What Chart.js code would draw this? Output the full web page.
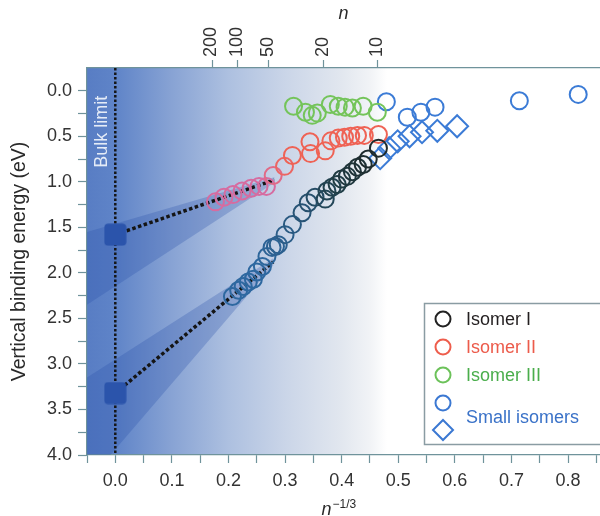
<!DOCTYPE html>
<html><head><meta charset="utf-8">
<script src="https://cdn.jsdelivr.net/npm/chart.js@4.4.0/dist/chart.umd.min.js"></script>
<style>html,body{margin:0;padding:0;background:#fff}#wrap{width:600px;height:516px}</style>
</head><body><div id="wrap"><canvas id="c" width="600" height="516"></canvas></div>
<script>
// ---------- data ----------
const topTickLabels = [200, 100, 50, 20, 10];           // n values on top axis
const legendLabels = ['Isomer I', 'Isomer II', 'Isomer III', 'Small isomers'];
const isomerI = [[0.207,2.26],[0.218,2.19],[0.226,2.15],[0.235,2.10],[0.244,2.07],[0.25,1.99],[0.26,1.93],[0.268,1.82],[0.277,1.72],[0.283,1.71],[0.288,1.69],[0.30,1.58],[0.313,1.47],[0.33,1.34],[0.341,1.23],[0.353,1.17],[0.371,1.19],[0.374,1.10],[0.383,1.06],[0.392,1.03],[0.40,0.97],[0.41,0.94],[0.419,0.89],[0.428,0.84],[0.438,0.81],[0.447,0.75],[0.465,0.63]];
const isomerII = [[0.177,1.22],[0.192,1.17],[0.208,1.14],[0.224,1.10],[0.24,1.07],[0.254,1.05],[0.267,1.05],[0.279,0.93],[0.299,0.83],[0.313,0.71],[0.344,0.56],[0.345,0.69],[0.371,0.66],[0.381,0.55],[0.394,0.52],[0.405,0.51],[0.416,0.50],[0.428,0.49],[0.44,0.49],[0.465,0.48]];
const isomerIII = [[0.315,0.17],[0.336,0.235],[0.348,0.27],[0.357,0.245],[0.38,0.15],[0.394,0.17],[0.406,0.18],[0.419,0.19],[0.438,0.17],[0.463,0.235]];
const smallCircles = [[0.479,0.12],[0.516,0.29],[0.54,0.235],[0.565,0.18],[0.714,0.11],[0.818,0.04]];
const smallDiamonds = [[0.468,0.74],[0.484,0.63],[0.499,0.555],[0.52,0.50],[0.542,0.455],[0.569,0.44],[0.604,0.39]];
const bulkLimit = [[0,1.58],[0,3.32]];
const fitUpper = [[0,1.58],[0.281,0.98]];
const fitLower = [[0,3.32],[0.279,1.88]];
const coneUpper = [[0.281,0.95],[-0.05,1.55],[-0.05,2.35],[0.281,1.01]];
const coneLower = [[0.279,1.84],[-0.05,3.15],[-0.05,4.3],[0.279,1.92]];
const bulkLine = [[0,-0.25],[0,4.0]];
const X_MIN = -0.05, X_MAX = 0.8565, Y_MIN = -0.25, Y_MAX = 4.0;

// ---------- helpers ----------
const FONT = "'Liberation Sans', Arial, Helvetica, sans-serif";
const pts = a => a.map(p => ({x: p[0], y: p[1]}));
const xTicks = []; for (let i = -1; i <= 17; i++) xTicks.push(+(i * 0.05).toFixed(2));
const yTicks = []; for (let i = 0; i <= 16; i++) yTicks.push(+(i * 0.25).toFixed(2));
const isMult = (v, s) => Math.abs(v / s - Math.round(v / s)) < 1e-6;
function lerpCol(stops, x) {
  if (x <= stops[0][0]) return stops[0][1];
  for (let i = 1; i < stops.length; i++) {
    if (x <= stops[i][0]) {
      const [x0, c0] = stops[i-1], [x1, c1] = stops[i];
      const t = (x - x0) / (x1 - x0);
      return c0.map((c, k) => Math.round(c + (c1[k] - c) * t));
    }
  }
  return stops[stops.length-1][1];
}
const rgb = c => `rgb(${c[0]},${c[1]},${c[2]})`;
const colI = x => rgb(lerpCol([[0.26,[46,104,160]],[0.33,[40,84,118]],[0.40,[32,60,66]],[0.45,[30,42,44]]], x));
const colII = x => rgb(lerpCol([[0.268,[214,108,160]],[0.29,[234,104,110]],[0.31,[239,98,84]]], x));
const AXIS = '#6f939b';

function makeSquare(size, r, color) {
  const c = document.createElement('canvas'); c.width = size; c.height = size;
  const g = c.getContext('2d'); g.fillStyle = color;
  const w = size - 1, o = 0.5;
  g.beginPath();
  g.moveTo(o + r, o); g.lineTo(o + w - r, o); g.quadraticCurveTo(o + w, o, o + w, o + r);
  g.lineTo(o + w, o + w - r); g.quadraticCurveTo(o + w, o + w, o + w - r, o + w);
  g.lineTo(o + r, o + w); g.quadraticCurveTo(o, o + w, o, o + w - r);
  g.lineTo(o, o + r); g.quadraticCurveTo(o, o, o + r, o); g.closePath(); g.fill();
  return c;
}
const squareImg = makeSquare(23, 4, '#2b54ab');

const circleDs = (label, data, color, order) => ({
  type: 'scatter', label, data: pts(data), order,
  pointStyle: 'circle', pointRadius: 8.5, pointBorderWidth: 2,
  pointBackgroundColor: 'rgba(0,0,0,0)', pointBorderColor: color, pointHoverRadius: 8.5
});

// ---------- plugins ----------
const bgPlugin = {
  id: 'bg',
  beforeDraw(chart) {
    const {ctx, chartArea: a, scales: {x}} = chart;
    ctx.save();
    ctx.fillStyle = '#fff'; ctx.fillRect(0, 0, chart.width, chart.height);
    const g = ctx.createLinearGradient(x.getPixelForValue(-0.05), 0, x.getPixelForValue(0.48), 0);
    const stops = [[-0.05,'#587dc4'],[0.0,'#5f84c8'],[0.1,'#88a3d4'],[0.2,'#adc0e0'],[0.3,'#cad5e8'],[0.4,'#e2e7ef'],[0.45,'#f1f3f6'],[0.48,'#ffffff']];
    const span = 0.53;
    stops.forEach(s => g.addColorStop((s[0] + 0.05) / span, s[1]));
    ctx.fillStyle = g;
    ctx.fillRect(a.left, a.top, a.right - a.left, a.bottom - a.top);
    ctx.restore();
  }
};

const overlayPlugin = {
  id: 'overlay',
  afterDraw(chart) {
    const {ctx, chartArea: a, scales: {x, y}} = chart;
    ctx.save();
    // Bulk limit label
    ctx.translate(x.getPixelForValue(-0.023), y.getPixelForValue(0.45));
    ctx.rotate(-Math.PI / 2);
    ctx.font = `18px ${FONT}`; ctx.fillStyle = 'rgba(236,241,250,0.95)';
    ctx.textAlign = 'center'; ctx.textBaseline = 'middle';
    ctx.fillText('Bulk limit', 0, 0);
    ctx.restore();

    // bottom axis title n^-1/3
    ctx.save();
    ctx.fillStyle = '#2a2a2a';
    ctx.font = `italic 18px ${FONT}`;
    const wN = ctx.measureText('n').width;
    ctx.font = `12px ${FONT}`;
    const wS = ctx.measureText('\u22121/3').width;
    const cx = x.getPixelForValue(0.395);
    const x0 = cx - (wN + 1 + wS) / 2;
    ctx.textBaseline = 'alphabetic'; ctx.textAlign = 'left';
    ctx.font = `italic 18px ${FONT}`; ctx.fillText('n', x0, 515);
    ctx.font = `12px ${FONT}`; ctx.fillText('\u22121/3', x0 + wN + 1, 508);
    ctx.restore();

    // legend
    ctx.save();
    const L = 424.5, T = 303.5, B = 444.5;
    ctx.fillStyle = '#fff'; ctx.fillRect(L, T, 600 - L, B - T);
    ctx.strokeStyle = '#8a9ca3'; ctx.lineWidth = 1.5;
    ctx.strokeRect(L, T, 620 - L, B - T);
    const cxL = 443, tx = 466;
    const items = [
      {y: 319, col: '#222', tcol: '#231f20', text: legendLabels[0]},
      {y: 347, col: '#ee5d4c', tcol: '#ec5b4b', text: legendLabels[1]},
      {y: 375, col: '#6cc25a', tcol: '#4aae4c', text: legendLabels[2]},
    ];
    ctx.font = `18px ${FONT}`; ctx.textBaseline = 'middle'; ctx.textAlign = 'left';
    items.forEach(it => {
      ctx.beginPath(); ctx.arc(cxL, it.y, 7.5, 0, Math.PI * 2);
      ctx.strokeStyle = it.col; ctx.lineWidth = 2; ctx.stroke();
      ctx.fillStyle = it.tcol; ctx.fillText(it.text, tx, it.y + 1);
    });
    ctx.beginPath(); ctx.arc(cxL, 403, 7.5, 0, Math.PI * 2);
    ctx.strokeStyle = '#3b78d2'; ctx.lineWidth = 2; ctx.stroke();
    ctx.beginPath(); ctx.moveTo(cxL, 420); ctx.lineTo(cxL + 10, 430); ctx.lineTo(cxL, 440); ctx.lineTo(cxL - 10, 430); ctx.closePath();
    ctx.stroke();
    ctx.fillStyle = '#3a72c8'; ctx.fillText(legendLabels[3], tx, 418);
    ctx.restore();
  }
};

// ---------- chart ----------
const tickFont = {family: FONT, size: 18};
const noPadX = s => { s.paddingLeft = 0; s.paddingRight = 0; };
new Chart(document.getElementById('c'), {
  type: 'scatter',
  data: {
    datasets: [
      circleDs('Isomer I', isomerI, ctx => colI(ctx.raw ? ctx.raw.x : 0.4), 1),
      circleDs('Isomer II', isomerII, ctx => colII(ctx.raw ? ctx.raw.x : 0.4), 2),
      circleDs('Isomer III', isomerIII, '#74c45a', 3),
      circleDs('Small isomers', smallCircles, '#3b7bd6', 4),
      {type: 'scatter', label: 'Small isomers (diamond)', data: pts(smallDiamonds), order: 5,
       pointStyle: 'rectRot', pointRadius: 11, pointBorderWidth: 2,
       pointBackgroundColor: 'rgba(0,0,0,0)', pointBorderColor: '#3b7bd6'},
      {type: 'scatter', label: 'Bulk limit', data: pts(bulkLimit), order: 6,
       pointStyle: squareImg, pointRadius: 12},
      {type: 'line', label: 'fit upper', data: pts(fitUpper), order: 7, borderColor: '#151515',
       borderWidth: 3.5, borderDash: [3.5, 2.5], pointRadius: 0, fill: false, tension: 0},
      {type: 'line', label: 'fit lower', data: pts(fitLower), order: 8, borderColor: '#151515',
       borderWidth: 3.5, borderDash: [3.5, 2.5], pointRadius: 0, fill: false, tension: 0},
      {type: 'line', label: 'bulk line', data: pts(bulkLine), order: 9, borderColor: '#151515',
       borderWidth: 2.5, borderDash: [2.5, 2], pointRadius: 0, fill: false, tension: 0},
      {type: 'line', label: 'cone upper', data: pts(coneUpper), order: 10, borderWidth: 0,
       borderColor: 'rgba(0,0,0,0)', backgroundColor: 'rgba(40,80,168,0.28)', pointRadius: 0, fill: 'shape', tension: 0},
      {type: 'line', label: 'cone lower', data: pts(coneLower), order: 11, borderWidth: 0,
       borderColor: 'rgba(0,0,0,0)', backgroundColor: 'rgba(40,80,168,0.28)', pointRadius: 0, fill: 'shape', tension: 0},
    ]
  },
  options: {
    responsive: false, animation: false, events: [],
    layout: {padding: 0, autoPadding: false},
    plugins: {legend: {display: false}, tooltip: {enabled: false}},
    scales: {
      x: {
        type: 'linear', position: 'bottom', min: X_MIN, max: X_MAX,
        afterBuildTicks: s => { s.ticks = xTicks.map(v => ({value: v})); },
        afterFit: s => { s.height = 61; noPadX(s); },
        ticks: {callback: v => isMult(v, 0.1) ? v.toFixed(1) : '', font: tickFont, color: '#333',
                padding: 7, maxRotation: 0, minRotation: 0, autoSkip: false},
        grid: {drawOnChartArea: false, tickLength: 8, tickColor: AXIS, tickWidth: 1.2},
        border: {color: AXIS, width: 1.2}
      },
      x2: {
        type: 'linear', position: 'top', min: X_MIN, max: X_MAX,
        afterBuildTicks: s => { s.ticks = topTickLabels.map(n => ({value: Math.pow(n, -1/3)})); },
        afterFit: s => { s.height = 68; noPadX(s); },
        ticks: {callback: (v, i) => String(topTickLabels[i]), font: tickFont, color: '#333',
                padding: 3, minRotation: 90, maxRotation: 90, autoSkip: false, labelOffset: 21},
        grid: {drawOnChartArea: false, tickLength: 8, tickColor: AXIS, tickWidth: 1.2},
        border: {color: AXIS, width: 1.2},
        title: {display: true, text: 'n', color: '#2a2a2a', font: {family: FONT, size: 18, style: 'italic'}, padding: {top: 3, bottom: 0}}
      },
      y: {
        type: 'linear', position: 'left', reverse: true, min: Y_MIN, max: Y_MAX,
        afterBuildTicks: s => { s.ticks = yTicks.map(v => ({value: v})); },
        afterFit: s => { s.width = 87; s.paddingTop = 0; s.paddingBottom = 0; },
        ticks: {callback: v => isMult(v, 0.5) ? v.toFixed(1) : '', font: tickFont, color: '#333', padding: 6, autoSkip: false},
        grid: {drawOnChartArea: false, tickLength: 9, tickColor: AXIS, tickWidth: 1.2},
        border: {color: AXIS, width: 1.2},
        title: {display: true, text: 'Vertical binding energy (eV)', color: '#2a2a2a', font: {family: FONT, size: 19.5}, padding: {top: 8, bottom: 0}}
      }
    }
  },
  plugins: [bgPlugin, overlayPlugin]
});
</script></body></html>
